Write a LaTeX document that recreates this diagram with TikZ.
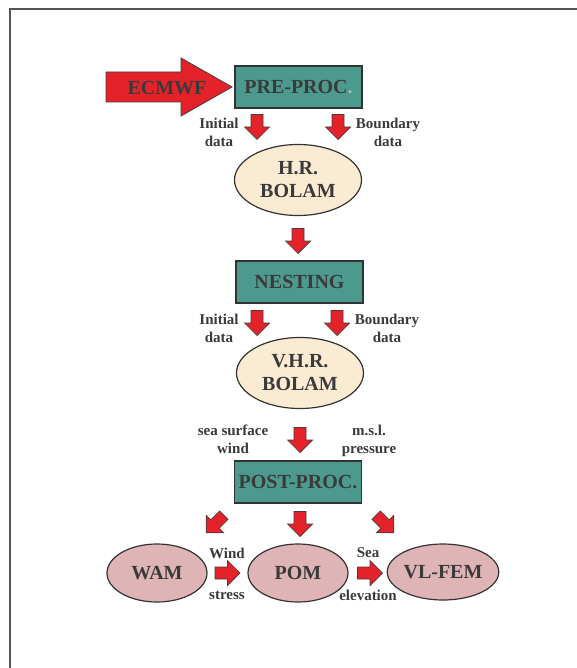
\documentclass[tikz,border=0pt]{standalone}
\usepackage{fontspec}
\setmainfont{Liberation Serif}
\usetikzlibrary{shapes.geometric}
\definecolor{txtc}{HTML}{3A3A3A}
\definecolor{tealc}{HTML}{4C9A8E}
\definecolor{boxline}{HTML}{333333}
\definecolor{creamc}{HTML}{FAEBD2}
\definecolor{pinkc}{HTML}{DFB4B7}
\definecolor{redc}{HTML}{E3222A}
\definecolor{arline}{HTML}{4A3A3A}
\definecolor{framec}{HTML}{555555}
\tikzset{
  big/.style={font=\fontsize{20}{23}\selectfont\bfseries, text=txtc},
  lab/.style={font=\fontsize{15}{18}\selectfont\bfseries, text=txtc, align=center, inner sep=0pt},
  procbox/.style={draw=boxline, line width=1.2pt, fill=tealc, minimum width=127pt, minimum height=42pt, inner sep=0pt, big},
  cream/.style={ellipse, draw=boxline, line width=1.2pt, fill=creamc, minimum width=127pt, minimum height=71pt, inner sep=0pt, big, align=center},
  pinkel/.style={ellipse, draw=boxline, line width=1.2pt, fill=pinkc, minimum width=100pt, minimum height=58pt, inner sep=0pt, big},
  blockar/.pic={\draw[draw=arline, fill=redc, line width=0.7pt, line join=miter]
     (-6,-12.5) -- (6,-12.5) -- (6,0) -- (12.5,0) -- (0,12.5) -- (-12.5,0) -- (-6,0) -- cycle;},
}
\begin{document}
\begin{tikzpicture}[x=1pt,y=-1pt]
\useasboundingbox (0,0) rectangle (577,668);
\draw[framec, line width=1.5pt] (10,668) -- (10,9) -- (577,9);

% ECMWF input arrow
\draw[draw=arline, fill=redc, line width=0.8pt, line join=miter]
  (106,72) -- (181,72) -- (181,58) -- (232,87) -- (181,116) -- (181,102) -- (106,102) -- cycle;
\node[big] (ecmwf) at (167,88) {ECMWF};

% PRE-PROC
\node[procbox] (pre) at (298.5,87) {PRE-PROC{\color{gray!60}.}};
\pic (a1) at (257,127) {blockar};
\pic (a2) at (338,127) {blockar};
\node[lab] (l1) at (219,132) {Initial\\data};
\node[lab] (l2) at (388,132) {Boundary\\data};

\node[cream] (hr) at (298,180) {H.R.\\BOLAM};
\pic (a3) at (298,241) {blockar};

% NESTING
\node[procbox] (nest) at (299.5,282) {NESTING};
\pic (a4) at (257,323) {blockar};
\pic (a5) at (337,323) {blockar};
\node[lab] (l3) at (219,328) {Initial\\data};
\node[lab] (l4) at (387,328) {Boundary\\data};

\node[cream] (vhr) at (300,373) {V.H.R.\\BOLAM};
\pic (a6) at (300,440) {blockar};
\node[lab] (l5) at (233,439) {sea surface\\wind};
\node[lab] (l6) at (369,441) {m.s.l.\\pressure};

% POST-PROC
\node[procbox] (post) at (298,482) {POST-PROC.};
\pic[rotate=-45] (a7) at (215,524) {blockar};
\pic (a8) at (300,524) {blockar};
\pic[rotate=45] (a9) at (385,524) {blockar};

% Models
\node[pinkel] (wam) at (157,573) {WAM};
\node[pinkel] (pom) at (298,573) {POM};
\node[pinkel, minimum width=106pt, minimum height=56pt] (vlfem) at (443,572) {VL-FEM};
\pic[rotate=90] (a10) at (227.5,573) {blockar};
\pic[rotate=90] (a11) at (370,573) {blockar};
\node[lab] (l7) at (227,553) {Wind};
\node[lab] (l8) at (227,595) {stress};
\node[lab] (l9) at (368,553) {Sea};
\node[lab] (l10) at (368,595) {elevation};
\end{tikzpicture}
\end{document}
